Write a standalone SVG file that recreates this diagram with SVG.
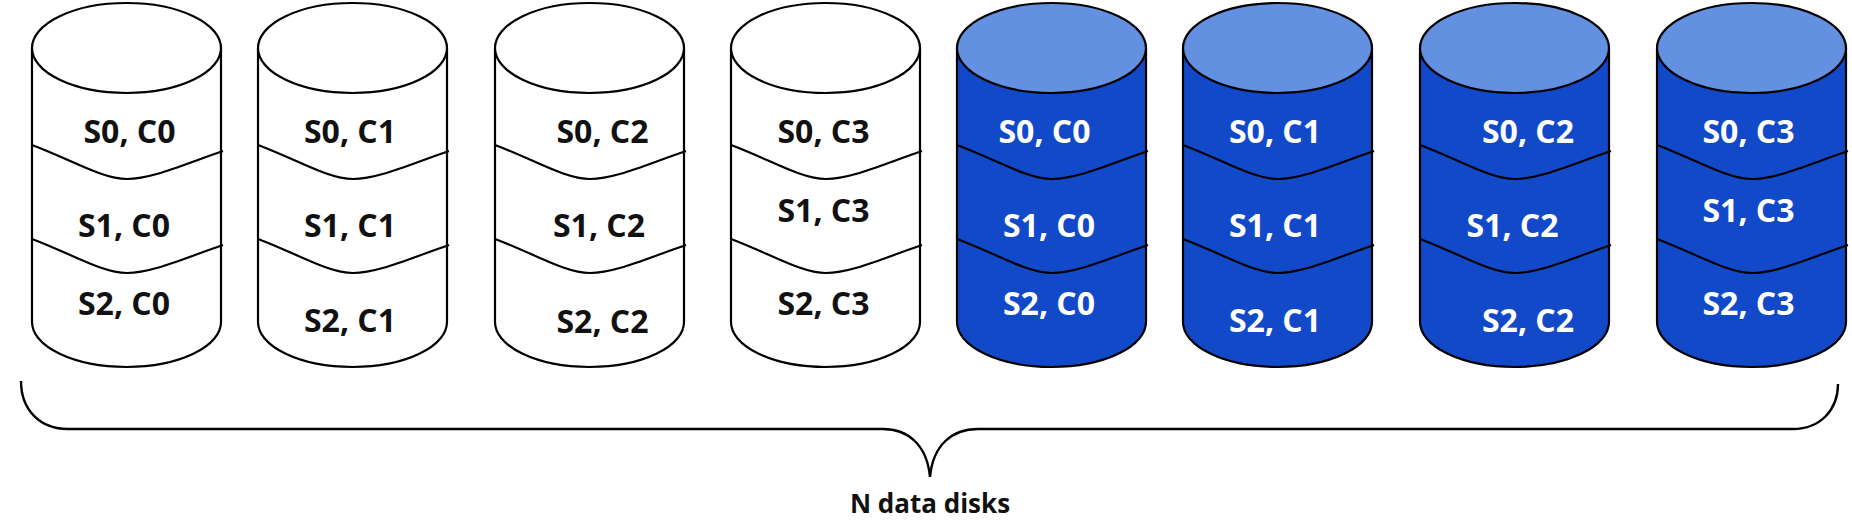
<svg xmlns="http://www.w3.org/2000/svg" width="1852" height="526" viewBox="0 0 1852 526">
<style>
.body{stroke:#000;stroke-width:2.2;stroke-linejoin:round}
.top{stroke:#000;stroke-width:2.2}
.wave{fill:none;stroke:#000;stroke-width:2.2}
.w .body,.w .top{fill:#fff}
.b .body{fill:#1249C9}
.b .top{fill:#6390E0}
text{font-family:"Open Sans","Liberation Sans",sans-serif;font-weight:bold;font-size:32px;text-anchor:middle}
.w text{fill:#111}
.b text{fill:#fff}
.brace{fill:none;stroke:#000;stroke-width:2.4}
.cap{font-size:26px;fill:#111}
</style>
<g id="disk1" class="w" transform="translate(32,0)">
<path class="body" d="M0,48 L0,322 A94.5,45 0 0 0 189,322 L189,48 Z"/>
<ellipse class="top" cx="94.5" cy="48" rx="94.5" ry="45"/>
<path class="wave" d="M0,145 C40,160 70,179 95,179 C120,179 150,165 191,151"/>
<path class="wave" d="M0,239 C40,254 70,273 95,273 C120,273 150,259 191,245"/>
<text x="97.5" y="143">S0, C0</text>
<text x="92" y="237">S1, C0</text>
<text x="92" y="315">S2, C0</text>
</g>
<g id="disk2" class="w" transform="translate(258,0)">
<path class="body" d="M0,48 L0,322 A94.5,45 0 0 0 189,322 L189,48 Z"/>
<ellipse class="top" cx="94.5" cy="48" rx="94.5" ry="45"/>
<path class="wave" d="M0,145 C40,160 70,179 95,179 C120,179 150,165 191,151"/>
<path class="wave" d="M0,239 C40,254 70,273 95,273 C120,273 150,259 191,245"/>
<text x="92" y="143">S0, C1</text>
<text x="92" y="237">S1, C1</text>
<text x="92" y="332">S2, C1</text>
</g>
<g id="disk3" class="w" transform="translate(495,0)">
<path class="body" d="M0,48 L0,322 A94.5,45 0 0 0 189,322 L189,48 Z"/>
<ellipse class="top" cx="94.5" cy="48" rx="94.5" ry="45"/>
<path class="wave" d="M0,145 C40,160 70,179 95,179 C120,179 150,165 191,151"/>
<path class="wave" d="M0,239 C40,254 70,273 95,273 C120,273 150,259 191,245"/>
<text x="107.5" y="143">S0, C2</text>
<text x="104" y="237">S1, C2</text>
<text x="107.5" y="333">S2, C2</text>
</g>
<g id="disk4" class="w" transform="translate(731,0)">
<path class="body" d="M0,48 L0,322 A94.5,45 0 0 0 189,322 L189,48 Z"/>
<ellipse class="top" cx="94.5" cy="48" rx="94.5" ry="45"/>
<path class="wave" d="M0,145 C40,160 70,179 95,179 C120,179 150,165 191,151"/>
<path class="wave" d="M0,239 C40,254 70,273 95,273 C120,273 150,259 191,245"/>
<text x="92.5" y="143">S0, C3</text>
<text x="92.5" y="222">S1, C3</text>
<text x="92.5" y="315">S2, C3</text>
</g>
<g id="disk5" class="b" transform="translate(957,0)">
<path class="body" d="M0,48 L0,322 A94.5,45 0 0 0 189,322 L189,48 Z"/>
<ellipse class="top" cx="94.5" cy="48" rx="94.5" ry="45"/>
<path class="wave" d="M0,145 C40,160 70,179 95,179 C120,179 150,165 191,151"/>
<path class="wave" d="M0,239 C40,254 70,273 95,273 C120,273 150,259 191,245"/>
<text x="87.5" y="143">S0, C0</text>
<text x="92" y="237">S1, C0</text>
<text x="92" y="315">S2, C0</text>
</g>
<g id="disk6" class="b" transform="translate(1183,0)">
<path class="body" d="M0,48 L0,322 A94.5,45 0 0 0 189,322 L189,48 Z"/>
<ellipse class="top" cx="94.5" cy="48" rx="94.5" ry="45"/>
<path class="wave" d="M0,145 C40,160 70,179 95,179 C120,179 150,165 191,151"/>
<path class="wave" d="M0,239 C40,254 70,273 95,273 C120,273 150,259 191,245"/>
<text x="92" y="143">S0, C1</text>
<text x="92" y="237">S1, C1</text>
<text x="92" y="332">S2, C1</text>
</g>
<g id="disk7" class="b" transform="translate(1420,0)">
<path class="body" d="M0,48 L0,322 A94.5,45 0 0 0 189,322 L189,48 Z"/>
<ellipse class="top" cx="94.5" cy="48" rx="94.5" ry="45"/>
<path class="wave" d="M0,145 C40,160 70,179 95,179 C120,179 150,165 191,151"/>
<path class="wave" d="M0,239 C40,254 70,273 95,273 C120,273 150,259 191,245"/>
<text x="108" y="143">S0, C2</text>
<text x="92.5" y="237">S1, C2</text>
<text x="108" y="332">S2, C2</text>
</g>
<g id="disk8" class="b" transform="translate(1657,0)">
<path class="body" d="M0,48 L0,322 A94.5,45 0 0 0 189,322 L189,48 Z"/>
<ellipse class="top" cx="94.5" cy="48" rx="94.5" ry="45"/>
<path class="wave" d="M0,145 C40,160 70,179 95,179 C120,179 150,165 191,151"/>
<path class="wave" d="M0,239 C40,254 70,273 95,273 C120,273 150,259 191,245"/>
<text x="91.5" y="143">S0, C3</text>
<text x="91.5" y="222">S1, C3</text>
<text x="91.5" y="315">S2, C3</text>
</g>
<g id="connectors">
<path class="brace" d="M21,381 C21,410 40,429 68,429 L883,429 C908,429 927,445 930,477 C933,445 952,429 978,429 L1793,429 C1820,429 1838,410 1838,384"/>
</g>
<g id="label">
<text class="cap" x="930" y="513">N data disks</text>
</g>
</svg>
